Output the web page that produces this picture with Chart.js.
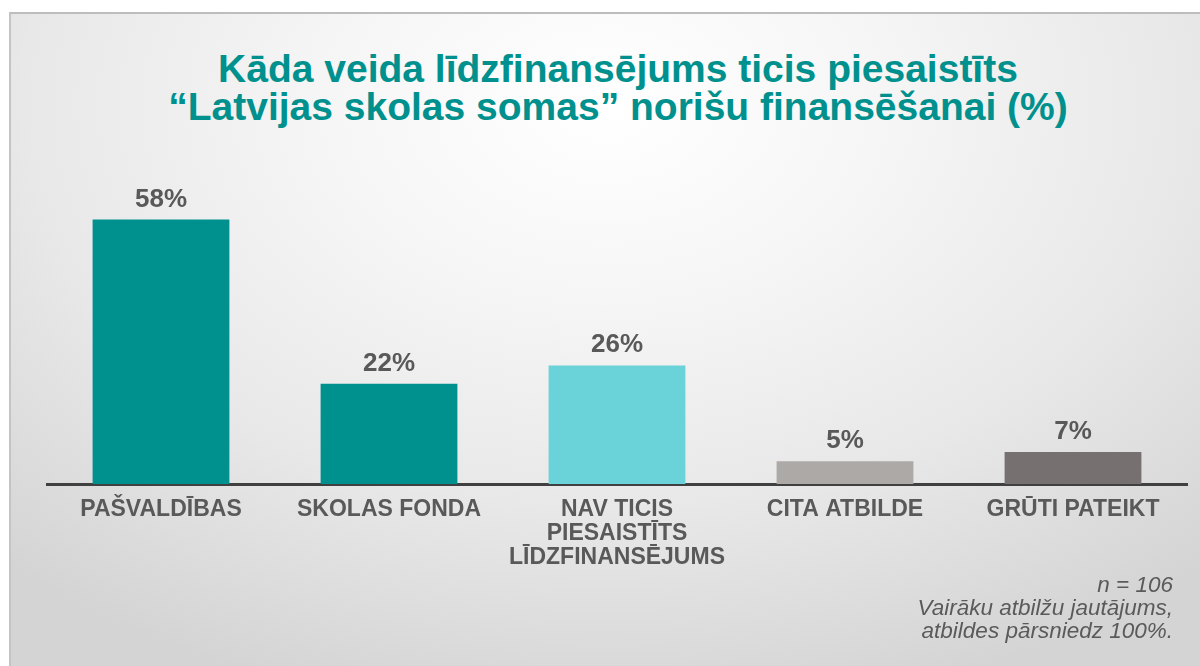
<!DOCTYPE html>
<html lang="lv">
<head>
<meta charset="utf-8">
<title>Līdzfinansējums</title>
<script src="https://cdn.jsdelivr.net/npm/chart.js@4"></script>
<style>
  html, body { margin: 0; padding: 0; background: #fff; }
  body { width: 1200px; height: 666px; position: relative; overflow: hidden; font-family: "Liberation Sans", Arial, sans-serif; }
  #slide {
    position: absolute; left: 9px; top: 12px; right: 0; bottom: 0;
    border-top: 2px solid #bdbdbd; border-left: 2px solid #c4c4c4;
    background: radial-gradient(ellipse 75% 95% at 50% 14%, #ffffff 0%, #f6f6f6 30%, #e8e8e8 65%, #d4d4d4 100%);
  }
  #title {
    position: absolute; left: 0; width: 1236px; top: 50px;
    text-align: center; color: #00918e; font-weight: bold; font-size: 39px; line-height: 38px;
  }
  #note {
    position: absolute; right: 27px; top: 573px;
    text-align: right; color: #5a5a5a; font-style: italic; font-size: 22.5px; line-height: 23px;
  }
  #wrap { position: absolute; left: 0; top: 0; width: 1200px; height: 666px; }
</style>
</head>
<body>
<div id="slide"></div>
<div id="title">Kāda veida līdzfinansējums ticis piesaistīts<br>“Latvijas skolas somas” norišu finansēšanai (%)</div>
<div id="wrap"><canvas id="chart" width="1200" height="666"></canvas></div>
<div id="note">n = 106<br>Vairāku atbilžu jautājums,<br>atbildes pārsniedz 100%.</div>
<script>
const categories = [
  "PAŠVALDĪBAS",
  "SKOLAS FONDA",
  ["NAV TICIS", "PIESAISTĪTS", "LĪDZFINANSĒJUMS"],
  "CITA ATBILDE",
  "GRŪTI PATEIKT"
];
const values = [58, 22, 26, 5, 7];
const barColors = ["#00918f", "#00918f", "#6ad3d9", "#ada9a7", "#767170"];

const textGray = "#595959";

// value labels above each bar
const valueLabels = {
  id: "valueLabels",
  afterDatasetsDraw(chart) {
    const { ctx } = chart;
    const meta = chart.getDatasetMeta(0);
    ctx.save();
    ctx.font = "bold 26px 'Liberation Sans', Arial, sans-serif";
    ctx.fillStyle = textGray;
    ctx.textAlign = "center";
    ctx.textBaseline = "alphabetic";
    meta.data.forEach((bar, i) => {
      ctx.fillText(values[i] + "%", bar.x, bar.y - 13);
    });
    ctx.restore();
  }
};

new Chart(document.getElementById("chart"), {
  type: "bar",
  data: {
    labels: categories,
    datasets: [{
      data: values,
      backgroundColor: barColors,
      borderWidth: 0,
      barPercentage: 0.6,
      categoryPercentage: 1
    }]
  },
  options: {
    responsive: false,
    animation: false,
    layout: { padding: { top: 174, left: 47, right: 13, bottom: 0 } },
    plugins: {
      legend: { display: false },
      tooltip: { enabled: false },
      title: { display: false }
    },
    scales: {
      y: { display: false, min: 0, max: 68 },
      x: {
        grid: { display: false, drawTicks: false },
        border: { display: true, color: "#404040", width: 3 },
        ticks: {
          color: textGray,
          padding: 14,
          maxRotation: 0,
          autoSkip: false,
          font: { family: "'Liberation Sans', Arial, sans-serif", size: 23, weight: "bold", lineHeight: 1.03 }
        },
        afterFit(scale) { scale.height = 182; }
      }
    }
  },
  plugins: [valueLabels]
});
</script>
</body>
</html>
